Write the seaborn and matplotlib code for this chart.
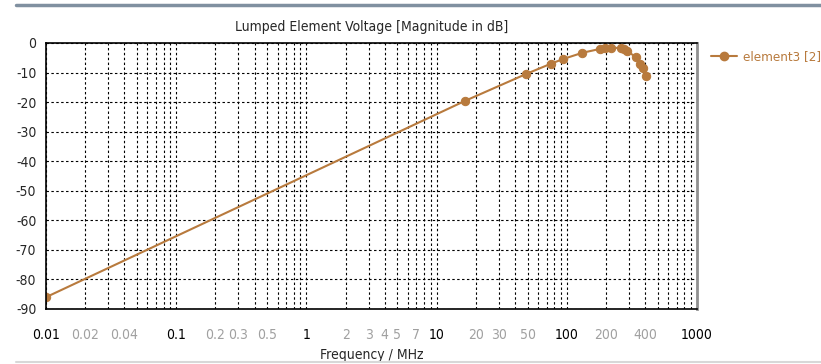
import numpy as np
import pandas as pd
import matplotlib
matplotlib.use("Agg")
import matplotlib.pyplot as plt
import matplotlib.ticker as mticker
import seaborn as sns

freq_mhz = [0.01, 16.5, 48.6, 75.6, 94, 132, 180, 198, 220, 262, 275, 289, 341, 365, 383, 405]
mag_db = [-86.0, -19.6, -10.5, -7.0, -5.4, -3.3, -2.0, -1.6, -1.6, -1.7, -2.1, -2.7, -4.8, -7.2, -8.3, -11.1]
series_name = "element3 [2]"
title = "Lumped Element Voltage [Magnitude in dB]"
xlabel = "Frequency / MHz"
major_ticks = [0.01, 0.1, 1, 10, 100, 1000]
minor_label_ticks = [0.02, 0.04, 0.2, 0.3, 0.5, 2, 3, 4, 5, 7, 20, 30, 50, 200, 400]
y_ticks = [0, -10, -20, -30, -40, -50, -60, -70, -80, -90]

sns.set_style("white")
plt.rcParams['font.family'] = ['DejaVu Sans']
plt.rcParams['font.stretch'] = 'condensed'
FS = 10

color = "#B87A3D"
df = pd.DataFrame({"freq": freq_mhz, "mag": mag_db})

fig = plt.figure(figsize=(8.21, 3.64), dpi=100)
ax = fig.add_axes([46/821, 55/364, 651/821, 266/364])
sns.lineplot(data=df, x="freq", y="mag", ax=ax, color=color, marker="o",
             markersize=6, markeredgecolor=color, linewidth=1.5, label=series_name,
             sort=False, legend=False)
ax.set_xscale("log")
ax.set_xlim(0.01, 1000)
ax.set_ylim(-90, 0)

ax.set_yticks(y_ticks)
ax.set_yticklabels([str(v) for v in y_ticks], fontsize=FS)
ax.xaxis.set_major_locator(mticker.FixedLocator(major_ticks))
ax.xaxis.set_major_formatter(mticker.FixedFormatter([f"{v:g}" for v in major_ticks]))
minor_all = [m * 10.0**e for e in range(-2, 3) for m in range(2, 10)]
ax.xaxis.set_minor_locator(mticker.FixedLocator(minor_all))
ax.xaxis.set_minor_formatter(mticker.FuncFormatter(
    lambda v, p: (f"{v:g}" if any(abs(v - t) / t < 1e-6 for t in minor_label_ticks) else "")))
for lab in ax.get_xticklabels():
    lab.set_fontsize(FS)
    lab.set_color("black")
for lab in ax.xaxis.get_ticklabels(minor=True):
    lab.set_fontsize(FS)
    lab.set_color("#A0A0A0")

ax.tick_params(axis="both", which="both", direction="out", length=4, width=1, color="black")
ax.tick_params(axis="x", which="both", pad=10)
ax.tick_params(axis="y", which="both", pad=3)
ax.grid(True, which="major", axis="both", color="black", linestyle=(0, (2.2, 2.2)), linewidth=0.8)
ax.grid(True, which="minor", axis="x", color="black", linestyle=(0, (2.2, 2.2)), linewidth=0.8)
ax.set_axisbelow(True)

for s in ["left", "bottom", "top"]:
    ax.spines[s].set_color("black")
    ax.spines[s].set_linewidth(1.2)
ax.spines["right"].set_color("#909090")
ax.spines["right"].set_linewidth(2)

ax.set_title(title, fontsize=FS, pad=9)
ax.set_xlabel(xlabel, fontsize=FS, labelpad=4)
ax.set_ylabel("")

handles = [plt.Line2D([], [], color=color, marker="o", markersize=6, linewidth=1.5)]
leg = fig.legend(handles, [series_name], loc="center left",
                 bbox_to_anchor=(711/821, 1 - 57/364), frameon=False,
                 fontsize=9.5, handlelength=2.0, handletextpad=0.4,
                 borderaxespad=0, borderpad=0)
for t in leg.get_texts():
    t.set_color(color)

fig.add_artist(plt.Line2D([0.02, 1.0], [1 - 5/364, 1 - 5/364], color="#8090A0", linewidth=2.5, transform=fig.transFigure))
fig.add_artist(plt.Line2D([0.02, 1.0], [1 - 362/364, 1 - 362/364], color="#D8D8D8", linewidth=1.5, transform=fig.transFigure))

fig.savefig("out.png", dpi=100)
